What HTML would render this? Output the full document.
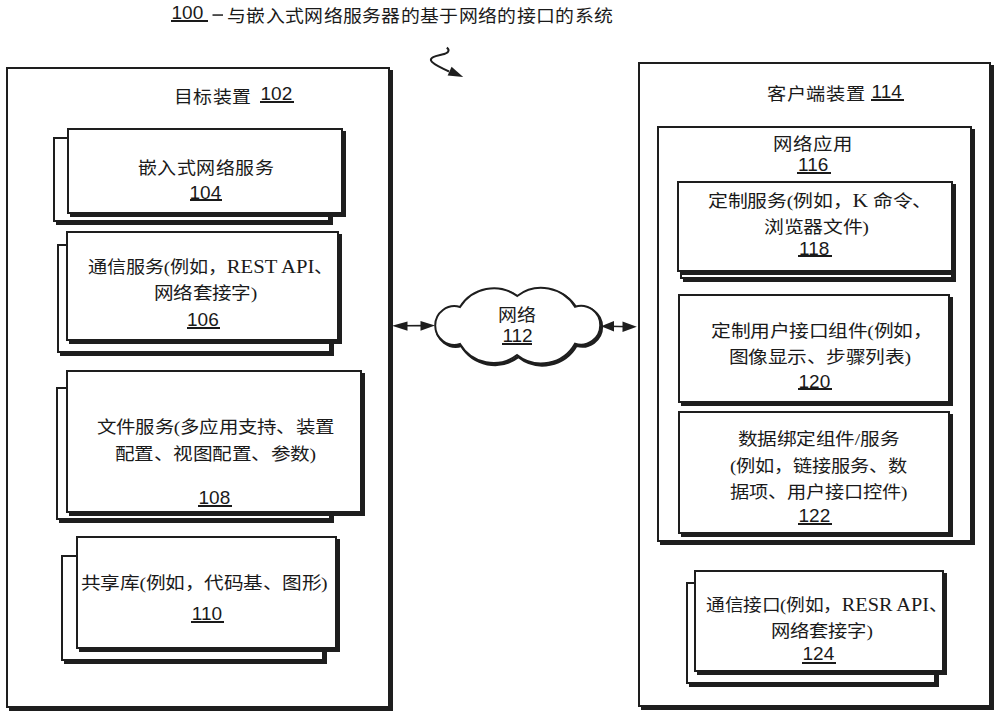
<!DOCTYPE html>
<html lang="zh-CN"><head><meta charset="utf-8"><style>
html,body{margin:0;padding:0;background:#fff;width:1000px;height:718px;overflow:hidden;position:relative}
.b{position:absolute;box-sizing:border-box;border-style:solid;border-color:#1e1e1e;background:#fff}
.t{position:absolute;white-space:nowrap;line-height:1;color:#1a1a1a;transform-origin:0 0}
.u{position:absolute;background:#1a1a1a}
svg{position:absolute;left:0;top:0}
</style></head><body>
<div class="b" style="left:6px;top:67px;width:383.5px;height:641px;border-width:2px;box-shadow:3px 3px 0 #1e1e1e"></div><div class="b" style="left:52.5px;top:137px;width:277px;height:85px;border-width:2px;box-shadow:3px 3px 0 #1e1e1e"></div><div class="b" style="left:67px;top:128px;width:276px;height:86px;border-width:2px;box-shadow:3px 3px 0 #1e1e1e"></div><div class="b" style="left:57px;top:244px;width:273.5px;height:109px;border-width:2px;box-shadow:3px 3px 0 #1e1e1e"></div><div class="b" style="left:66px;top:231px;width:273px;height:110px;border-width:2px;box-shadow:3px 3px 0 #1e1e1e"></div><div class="b" style="left:55.5px;top:387px;width:275px;height:133px;border-width:2px;box-shadow:3px 3px 0 #1e1e1e"></div><div class="b" style="left:66px;top:370px;width:295.5px;height:143px;border-width:2px;box-shadow:3px 3px 0 #1e1e1e"></div><div class="b" style="left:61px;top:555px;width:262.5px;height:105.5px;border-width:2px;box-shadow:3px 3px 0 #1e1e1e"></div><div class="b" style="left:76px;top:536px;width:261px;height:112.5px;border-width:2px;box-shadow:3px 3px 0 #1e1e1e"></div><div class="b" style="left:638px;top:62px;width:353px;height:645px;border-width:2px;box-shadow:3px 3px 0 #1e1e1e"></div><div class="b" style="left:657px;top:125.5px;width:315px;height:416px;border-width:2px;box-shadow:3px 3px 0 #1e1e1e"></div><div class="b" style="left:680px;top:187px;width:273px;height:92px;border-width:2px;box-shadow:3px 3px 0 #1e1e1e"></div><div class="b" style="left:677px;top:180.5px;width:275.5px;height:91px;border-width:2px;box-shadow:3px 3px 0 #1e1e1e"></div><div class="b" style="left:678px;top:294px;width:272px;height:108.5px;border-width:2px;box-shadow:3px 3px 0 #1e1e1e"></div><div class="b" style="left:678px;top:411px;width:272px;height:122.5px;border-width:2px;box-shadow:3px 3px 0 #1e1e1e"></div><div class="b" style="left:685.5px;top:582px;width:250px;height:102px;border-width:2px;box-shadow:3px 3px 0 #1e1e1e"></div><div class="b" style="left:693.5px;top:569.5px;width:250px;height:102px;border-width:2px;box-shadow:3px 3px 0 #1e1e1e"></div>
<svg width="1000" height="718" viewBox="0 0 1000 718">
<defs>
<path id="cl" d="M460 307 A19.3 19.3 0 1 0 460 344 A38.8 38.8 0 0 0 517 355 A38.8 38.8 0 0 0 575 343.7 A19.4 19.4 0 1 0 575 306.7 A39.7 39.7 0 0 0 517.2 296 A39.7 39.7 0 0 0 460 307 Z"/>
</defs>
<use href="#cl" transform="translate(1.4 1.6)" fill="none" stroke="#1e1e1e" stroke-width="3"/>
<use href="#cl" fill="#fff" stroke="#1e1e1e" stroke-width="2"/>
<g fill="#1e1e1e" stroke="none">
<rect x="212.5" y="14.3" width="10.5" height="1.5"/>
<polygon points="392,325.8 407.5,321.4 407.5,330.7"/>
<polygon points="435,325.6 420.5,321 420.5,330.7"/>
<polygon points="601,326.2 614,321 614,331.4"/>
<polygon points="636.8,326.8 622.5,321.6 622.5,332"/>
<polygon points="451.6,66.8 447.6,75.6 463.2,77"/>
</g>
<g fill="none" stroke="#1e1e1e" stroke-width="1.6">
<line x1="400" y1="325.8" x2="428" y2="325.6"/>
<line x1="608" y1="326.2" x2="630" y2="326.8"/>
</g>
<path d="M446.8 47.6 C450 50 449 53 442 54.5 C436 56 430 57 431 60.5 C432 64 440 67 449 71.5" fill="none" stroke="#1e1e1e" stroke-width="2"/>
</svg>

<div class="t" style="left:171.50px;top:3.25px;font-size:19.00px;font-family:'Liberation Sans',sans-serif;transform:scaleX(1.0000)">100</div><div class="u" style="left:171.0px;top:20.1px;width:36.5px;height:2px"></div><div class="t" style="left:226.93px;top:7.75px;font-size:17.60px;font-family:'Liberation Sans',sans-serif;transform:scaleX(1.0726)">与嵌入式网络服务器的基于网络的接口的系统</div><div class="t" style="left:173.78px;top:89.00px;font-size:17.60px;font-family:'Liberation Sans',sans-serif;transform:scaleX(1.0735)">目标装置</div><div class="t" style="left:260.50px;top:84.00px;font-size:19.00px;font-family:'Liberation Sans',sans-serif;transform:scaleX(1.0000)">102</div><div class="u" style="left:259.5px;top:101.1px;width:34px;height:2px"></div><div class="t" style="left:137.92px;top:159.50px;font-size:17.60px;font-family:'Liberation Sans',sans-serif;transform:scaleX(1.0806)">嵌入式网络服务</div><div class="t" style="left:189.50px;top:182.50px;font-size:19.00px;font-family:'Liberation Sans',sans-serif;transform:scaleX(1.0000)">104</div><div class="u" style="left:189.5px;top:199.1px;width:32px;height:2px"></div><div class="t" style="left:87.89px;top:257.50px;font-size:17.20px;font-family:'Liberation Serif',serif;transform:scaleX(1.1130)">通信服务(例如，<span style='font-size:1.08em'>REST API</span>、</div><div class="t" style="left:154.26px;top:285.00px;font-size:17.20px;font-family:'Liberation Serif',serif;transform:scaleX(1.1393)">网络套接字)</div><div class="t" style="left:187.00px;top:310.20px;font-size:19.00px;font-family:'Liberation Sans',sans-serif;transform:scaleX(1.0000)">106</div><div class="u" style="left:186.5px;top:326.6px;width:33px;height:2px"></div><div class="t" style="left:96.87px;top:418.50px;font-size:17.20px;font-family:'Liberation Serif',serif;transform:scaleX(1.1298)">文件服务(多应用支持、装置</div><div class="t" style="left:114.86px;top:445.50px;font-size:17.20px;font-family:'Liberation Serif',serif;transform:scaleX(1.1437)">配置、视图配置、参数)</div><div class="t" style="left:198.50px;top:487.80px;font-size:19.00px;font-family:'Liberation Sans',sans-serif;transform:scaleX(1.0000)">108</div><div class="u" style="left:197.5px;top:504.6px;width:34px;height:2px"></div><div class="t" style="left:81.46px;top:575.00px;font-size:17.20px;font-family:'Liberation Serif',serif;transform:scaleX(1.1449)">共享库(例如，代码基、图形)</div><div class="t" style="left:191.80px;top:604.40px;font-size:19.00px;font-family:'Liberation Sans',sans-serif;transform:scaleX(1.0000)">110</div><div class="u" style="left:190.5px;top:621.4px;width:33.599999999999994px;height:2px"></div><div class="t" style="left:766.91px;top:85.50px;font-size:17.60px;font-family:'Liberation Sans',sans-serif;transform:scaleX(1.0909)">客户端装置</div><div class="t" style="left:871.50px;top:81.80px;font-size:19.00px;font-family:'Liberation Sans',sans-serif;transform:scaleX(1.0000)">114</div><div class="u" style="left:870.5px;top:98.6px;width:33px;height:2px"></div><div class="t" style="left:772.79px;top:136.00px;font-size:17.60px;font-family:'Liberation Sans',sans-serif;transform:scaleX(1.1029)">网络应用</div><div class="t" style="left:798.00px;top:154.70px;font-size:19.00px;font-family:'Liberation Sans',sans-serif;transform:scaleX(1.0000)">116</div><div class="u" style="left:796.5px;top:171.79999999999998px;width:34px;height:2px"></div><div class="t" style="left:708.34px;top:191.80px;font-size:17.20px;font-family:'Liberation Serif',serif;transform:scaleX(1.1575)">定制服务(例如，<span style='font-size:1.08em'>K</span> 命令、</div><div class="t" style="left:763.84px;top:219.00px;font-size:17.20px;font-family:'Liberation Serif',serif;transform:scaleX(1.1573)">浏览器文件)</div><div class="t" style="left:799.00px;top:238.70px;font-size:19.00px;font-family:'Liberation Sans',sans-serif;transform:scaleX(1.0000)">118</div><div class="u" style="left:797.5px;top:255.4px;width:34px;height:2px"></div><div class="t" style="left:710.85px;top:323.00px;font-size:17.20px;font-family:'Liberation Serif',serif;transform:scaleX(1.1492)">定制用户接口组件(例如，</div><div class="t" style="left:728.85px;top:349.00px;font-size:17.20px;font-family:'Liberation Serif',serif;transform:scaleX(1.1465)">图像显示、步骤列表)</div><div class="t" style="left:798.50px;top:371.70px;font-size:19.00px;font-family:'Liberation Sans',sans-serif;transform:scaleX(1.0000)">120</div><div class="u" style="left:797.5px;top:388.40000000000003px;width:34px;height:2px"></div><div class="t" style="left:737.86px;top:430.80px;font-size:17.20px;font-family:'Liberation Serif',serif;transform:scaleX(1.1439)">数据绑定组件/服务</div><div class="t" style="left:730.48px;top:457.75px;font-size:17.20px;font-family:'Liberation Serif',serif;transform:scaleX(1.1172)">(例如，链接服务、数</div><div class="t" style="left:730.48px;top:483.75px;font-size:17.20px;font-family:'Liberation Serif',serif;transform:scaleX(1.1172)">据项、用户接口控件)</div><div class="t" style="left:798.50px;top:505.60px;font-size:19.00px;font-family:'Liberation Sans',sans-serif;transform:scaleX(1.0000)">122</div><div class="u" style="left:797.5px;top:522.8000000000001px;width:34px;height:2px"></div><div class="t" style="left:705.91px;top:595.50px;font-size:17.20px;font-family:'Liberation Serif',serif;transform:scaleX(1.0890)">通信接口(例如，<span style='font-size:1.08em'>RESR API</span>、</div><div class="t" style="left:770.88px;top:623.00px;font-size:17.20px;font-family:'Liberation Serif',serif;transform:scaleX(1.1236)">网络套接字)</div><div class="t" style="left:802.50px;top:644.40px;font-size:19.00px;font-family:'Liberation Sans',sans-serif;transform:scaleX(1.0000)">124</div><div class="u" style="left:801.5px;top:661.8000000000001px;width:34px;height:2px"></div><div class="t" style="left:498.35px;top:307.00px;font-size:17.60px;font-family:'Liberation Sans',sans-serif;transform:scaleX(1.0758)">网络</div><div class="t" style="left:502.40px;top:326.15px;font-size:19.00px;font-family:'Liberation Sans',sans-serif;transform:scaleX(1.0000)">112</div><div class="u" style="left:501.8px;top:343.1px;width:30.400000000000034px;height:2px"></div>
</body></html>
